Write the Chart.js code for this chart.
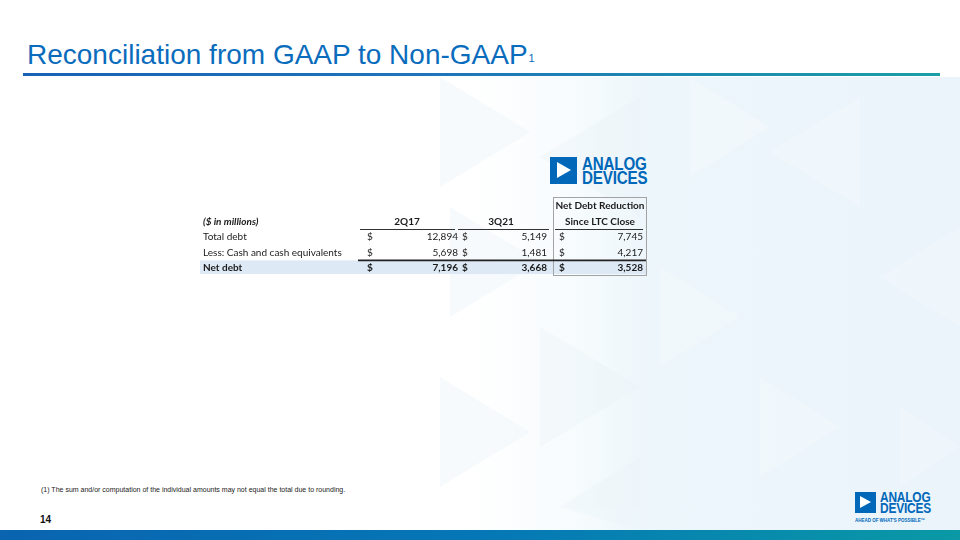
<!DOCTYPE html>
<html>
<head>
<meta charset="utf-8">
<script src="https://cdn.jsdelivr.net/npm/chart.js@4.4.0/dist/chart.umd.min.js"></script>
<style>
  html, body { margin: 0; padding: 0; }
  body { width: 960px; height: 540px; position: relative; overflow: hidden; background: #fff; font-family: "Liberation Sans", Arial, sans-serif; }
  .bg { position: absolute; left: 0; top: 77px; width: 960px; height: 453px;
        background: linear-gradient(90deg, #fff 0, #fff 470px, #f6fbfd 580px, #edf6fb 650px, #eaf4fa 100%); }
  .bg svg { position: absolute; left: 0; top: 0; }
  .title { position: absolute; left: 27px; top: 41px; font-size: 28px; line-height: 28px; color: #0a6cbc; white-space: nowrap; }
  .title span { font-size: 11px; position: relative; top: -2px; margin-left: 1px; }
  .rule { position: absolute; left: 23px; top: 73px; width: 917px; height: 3px;
          background: linear-gradient(90deg, #1862b3 0%, #1f74bb 45%, #1a9fa6 100%); }
  .foot { position: absolute; left: 41px; top: 486px; font-size: 7px; line-height: 8px; color: #222; white-space: nowrap; }
  .page { position: absolute; left: 40px; top: 515px; font-size: 10px; line-height: 10px; font-weight: bold; color: #111; }
  .bar { position: absolute; left: 0; top: 530px; width: 960px; height: 10px;
         background: linear-gradient(90deg, #0a64b0 0%, #0577b6 50%, #0a99a5 100%); }
  .logo { position: absolute; }
  .logo .sq { position: absolute; left: 0; top: 0; background: #0067b9; }
  .logo .tri { position: absolute; width: 0; height: 0; border-style: solid; border-color: transparent transparent transparent #fff; }
  .logo .txt { position: absolute; font-weight: bold; color: #0067b9; transform: scaleX(0.82); transform-origin: 0 0; white-space: nowrap; letter-spacing: -0.2px; }
  .logo .tag { position: absolute; font-weight: bold; color: #0067b9; white-space: nowrap; transform: scaleX(0.8); transform-origin: 0 0; }
  #tableChart { position: absolute; left: 190px; top: 190px; }
</style>
</head>
<body>
<div class="bg">
  <svg width="960" height="453">
    <g fill="#eaf3f9" opacity="0.35">
      <polygon points="440,0 530,55 440,110"/>
      <polygon points="640,20 540,80 640,140"/>
      <polygon points="450,130 540,185 450,240"/>
      <polygon points="540,250 640,310 540,370"/>
      <polygon points="440,300 530,355 440,410"/>
      <polygon points="640,380 560,430 640,453"/>
    </g>
    <g fill="#ffffff" opacity="0.25">
      <polygon points="690,0 770,50 690,100"/>
      <polygon points="860,20 770,75 860,130"/>
      <polygon points="660,190 740,240 660,290"/>
      <polygon points="960,150 880,200 960,250"/>
      <polygon points="760,300 840,350 760,400"/>
      <polygon points="900,330 960,370 900,410"/>
    </g>
  </svg>
</div>

<div class="title">Reconciliation from GAAP to Non-GAAP<span>1</span></div>
<div class="rule"></div>

<div class="logo" style="left:550px; top:157px; width:100px; height:28px;">
  <div class="sq" style="width:27px; height:27px;"></div>
  <div class="tri" style="left:7px; top:5px; border-width:8.5px 0 8.5px 14px;"></div>
  <div class="txt" style="left:32px; top:0; font-size:18.5px; line-height:14px;">ANALOG</div>
  <div class="txt" style="left:32px; top:14px; font-size:18.5px; line-height:14px;">DEVICES</div>
</div>

<canvas id="tableChart" width="470" height="92"></canvas>

<div class="foot">(1) The sum and/or computation of the individual amounts may not equal the total due to rounding.</div>
<div class="page">14</div>

<div class="logo" style="left:855px; top:492px; width:80px; height:32px;">
  <div class="sq" style="width:21px; height:21px;"></div>
  <div class="tri" style="left:5px; top:4px; border-width:6.5px 0 6.5px 11px;"></div>
  <div class="txt" style="left:25px; top:0; font-size:14.5px; line-height:11px;">ANALOG</div>
  <div class="txt" style="left:25px; top:11px; font-size:14.5px; line-height:11px;">DEVICES</div>
  <div class="tag" style="left:0; top:25px; font-size:5.6px; line-height:6px;">AHEAD OF WHAT'S POSSIBLE™</div>
</div>
<div class="bar"></div>

<script>
// ===== Dữ liệu bảng (triệu USD) =====
const rowLabels = ["Total debt", "Less: Cash and cash equivalents", "Net debt"];
const periodLabels = ["2Q17", "3Q21"];
const reductionLabels = ["Net Debt Reduction", "Since LTC Close"];
const unitsLabel = "($ in millions)";
const debt2Q17 = [12894, 5698, 7196];
const debt3Q21 = [5149, 1481, 3668];
const netDebtReduction = [7745, 4217, 3528];

const headerRows = ["hdr1", "hdr2"];
const yLabels = headerRows.concat(rowLabels);
const columnValues = [debt2Q17, debt3Q21, netDebtReduction];

// vị trí cột (px tính từ mép trái bảng)
const layout = {
  labelX: 8,
  bandLeft: 5,
  cols: [
    { left: 165, right: 260, dollar: 172, value: 263, center: 212 },
    { left: 263, right: 354, dollar: 267, value: 352, center: 306 },
    { left: 360, right: 448, dollar: 364, value: 448, center: 405 },
  ],
  box: { left: 358, right: 451 },
  netRuleLeft: 163,
};

const FONT = '"Lato", "Open Sans", sans-serif';
const SIZE = "10px ";
const TEXT = "#1b1b1b";
const fmt = (v) => v.toLocaleString("en-US");

const tablePlugin = {
  id: "tableCells",
  beforeDatasetsDraw(chart) {
    const { ctx, scales: { x, y } } = chart;
    const px = (v) => x.getPixelForValue(v);
    const rowY = (i) => y.getPixelForValue(i);
    const step = rowY(1) - rowY(0);
    const edge = (i) => (rowY(i - 1) + rowY(i)) / 2;
    const last = yLabels.length - 1;
    ctx.save();

    // dải nền dòng Net debt
    const bandTop = edge(last);
    const bandBottom = rowY(last) + step / 2 - 2;
    ctx.fillStyle = "#dde9f5";
    ctx.fillRect(px(layout.bandLeft), bandTop, px(layout.box.right) - px(layout.bandLeft), bandBottom - bandTop);

    // khung cột Net Debt Reduction
    ctx.strokeStyle = "#a3a3a3";
    ctx.lineWidth = 1;
    const boxTop = Math.round(rowY(0) - step / 2 - 1) + 0.5;
    const boxBottom = Math.round(bandBottom + 1) + 0.5;
    ctx.strokeRect(Math.round(px(layout.box.left)) + 0.5, boxTop,
      Math.round(px(layout.box.right) - px(layout.box.left)), boxBottom - boxTop);

    // gạch dưới tiêu đề cột
    ctx.strokeStyle = "#333";
    const hy = Math.round(edge(2)) + 0.5;
    layout.cols.forEach((c) => {
      ctx.beginPath();
      ctx.moveTo(px(c.left), hy);
      ctx.lineTo(px(c.right), hy);
      ctx.stroke();
    });

    // đường kẻ trên Net debt
    ctx.strokeStyle = "#222";
    ctx.lineWidth = 1.6;
    ctx.beginPath();
    ctx.moveTo(px(layout.netRuleLeft), bandTop);
    ctx.lineTo(px(layout.box.right), bandTop);
    ctx.stroke();
    ctx.restore();
  },
  afterDatasetsDraw(chart) {
    const { ctx, scales: { x, y } } = chart;
    const px = (v) => x.getPixelForValue(v);
    const rowY = (i) => y.getPixelForValue(i);
    ctx.save();
    ctx.fillStyle = TEXT;
    ctx.textBaseline = "middle";

    // tiêu đề
    ctx.font = "bold " + SIZE + FONT;
    ctx.textAlign = "center";
    periodLabels.forEach((p, c) => ctx.fillText(p, px(layout.cols[c].center), rowY(1)));
    reductionLabels.forEach((t, i) => ctx.fillText(t, px(layout.cols[2].center), rowY(i)));
    ctx.textAlign = "left";
    ctx.font = "italic bold " + SIZE + FONT;
    ctx.fillText(unitsLabel, px(layout.labelX), rowY(1));

    // nhãn dòng
    rowLabels.forEach((r, i) => {
      const bold = i === rowLabels.length - 1;
      ctx.font = (bold ? "bold " : "") + SIZE + FONT;
      ctx.textAlign = "left";
      ctx.fillText(r, px(layout.labelX), rowY(i + headerRows.length));
    });

    // giá trị từng ô
    chart.data.datasets.forEach((ds, c) => {
      const meta = chart.getDatasetMeta(c);
      meta.data.forEach((el, i) => {
        const bold = i === rowLabels.length - 1;
        ctx.font = (bold ? "bold " : "") + SIZE + FONT;
        ctx.textAlign = "left";
        ctx.fillText("$", px(layout.cols[c].dollar), el.y);
        ctx.textAlign = "right";
        ctx.fillText(fmt(ds.data[i].v), el.x, el.y);
      });
    });
    ctx.restore();
  },
};

new Chart(document.getElementById("tableChart"), {
  type: "scatter",
  data: {
    datasets: columnValues.map((vals, c) => ({
      label: c < 2 ? periodLabels[c] : reductionLabels.join(" "),
      data: vals.map((v, i) => ({ x: layout.cols[c].value, y: rowLabels[i], v })),
      pointRadius: 0,
    })),
  },
  options: {
    responsive: false,
    animation: false,
    events: [],
    layout: { padding: { left: 5, right: 5, top: 8, bottom: 6 } },
    plugins: { legend: { display: false }, tooltip: { enabled: false } },
    scales: {
      x: { type: "linear", min: 0, max: 460, display: false },
      y: { type: "category", labels: yLabels, offset: true, display: false },
    },
  },
  plugins: [tablePlugin],
});
</script>
</body>
</html>
